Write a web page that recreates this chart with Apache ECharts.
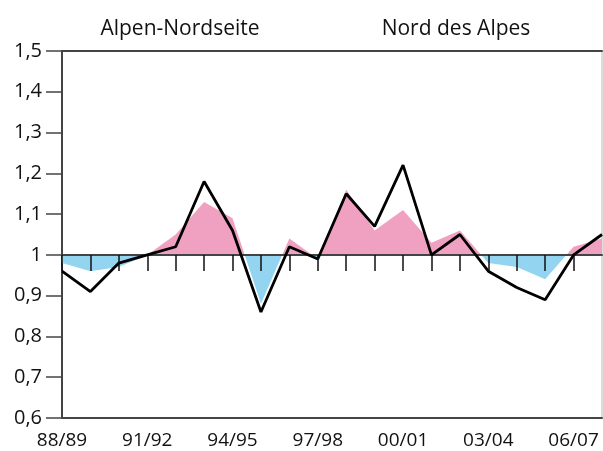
<!DOCTYPE html>
<html>
<head>
<meta charset="utf-8">
<script src="https://cdn.jsdelivr.net/npm/echarts@6/dist/echarts.min.js"></script>
<style>
  html, body { margin: 0; padding: 0; background: #fff; }
  #chart { width: 603px; height: 451px; }
</style>
</head>
<body>
<div id="chart"></div>
<script>
const seasons = ['88/89', '89/90', '90/91', '91/92', '92/93', '93/94', '94/95', '95/96', '96/97', '97/98',
  '98/99', '99/00', '00/01', '01/02', '02/03', '03/04', '04/05', '05/06', '06/07', '07/08']
// shaded series (pink above 1, blue below 1)
const areaValues = [0.98, 0.96, 0.97, 1.00, 1.05, 1.13, 1.09, 0.88, 1.04, 0.99,
  1.16, 1.06, 1.11, 1.03, 1.06, 0.98, 0.97, 0.94, 1.02, 1.04]
// black line
const lineValues = [0.96, 0.91, 0.98, 1.00, 1.02, 1.18, 1.06, 0.86, 1.02, 0.99,
  1.15, 1.07, 1.22, 1.00, 1.05, 0.96, 0.92, 0.89, 1.00, 1.05]
const titles = ['Alpen-Nordseite', 'Nord des Alpes']
const yMin = 0.6
const yMax = 1.5
const yStep = 0.1
const baseLevel = 1

const font = 'Open Sans'
const axisColor = '#444'
const pink = '#f0a0c1'
const blue = '#93d5f1'
const gridTop = 51
const gridBottom = 33
const gridHeight = 451 - gridTop - gridBottom
// share of the plot height above the 1 line
const baseFrac = (yMax - baseLevel) / (yMax - yMin)

const chart = echarts.init(document.getElementById('chart'))
const option = {
  backgroundColor: '#fff',
  animation: false,
  title: [
    { text: titles[0], left: 180, top: 19, textAlign: 'center', padding: 0,
      textStyle: { fontFamily: font, fontSize: 21, fontWeight: 'normal', color: '#111' } },
    { text: titles[1], left: 456, top: 19, textAlign: 'center', padding: 0,
      textStyle: { fontFamily: font, fontSize: 21, fontWeight: 'normal', color: '#111' } }
  ],
  grid: {
    left: 62,
    right: 1,
    top: gridTop,
    bottom: gridBottom,
    show: true,
    borderColor: '#bbb',
    borderWidth: 1
  },
  xAxis: [{
    type: 'category',
    data: seasons,
    boundaryGap: false,
    position: 'bottom',
    axisLine: { lineStyle: { color: axisColor, width: 2 } },
    axisTick: { show: false },
    axisLabel: { interval: 2, margin: 13, fontFamily: font, fontSize: 19, color: '#111' },
    splitLine: { show: false }
  }, {
    // ticks hanging from the 1 line
    type: 'category',
    data: seasons,
    boundaryGap: false,
    position: 'bottom',
    offset: -(1 - baseFrac) * gridHeight,
    z: 5,
    axisLine: { lineStyle: { color: axisColor, width: 2 } },
    axisTick: {
      show: true,
      interval: (idx) => idx < seasons.length - 1, // no tick on the right edge
      length: 16,
      lineStyle: { color: '#111', width: 1.5 }
    },
    axisLabel: { show: false },
    splitLine: { show: false }
  }, {
    type: 'category',
    data: seasons,
    boundaryGap: false,
    position: 'top',
    axisLine: { lineStyle: { color: axisColor, width: 2 } },
    axisTick: { show: false },
    axisLabel: { show: false },
    splitLine: { show: false }
  }],
  yAxis: {
    type: 'value',
    min: yMin,
    max: yMax,
    interval: yStep,
    axisLine: { show: true, lineStyle: { color: axisColor, width: 2 } },
    axisTick: { show: true, length: 16, lineStyle: { color: axisColor, width: 1.5 } },
    axisLabel: {
      margin: 20,
      fontFamily: font,
      fontSize: 20,
      color: '#111',
      formatter(v) {
        return String(Math.round(v * 10) / 10).replace('.', ',')
      }
    },
    splitLine: { show: false }
  },
  series: [{
    name: 'area',
    type: 'line',
    data: areaValues,
    showSymbol: false,
    silent: true,
    lineStyle: { width: 0 },
    areaStyle: {
      origin: baseLevel,
      opacity: 1,
      // hard split at the 1 line: pink above, blue below
      color: new echarts.graphic.LinearGradient(0, gridTop, 0, gridTop + gridHeight, [
        { offset: 0, color: pink },
        { offset: baseFrac, color: pink },
        { offset: baseFrac, color: blue },
        { offset: 1, color: blue }
      ], true)
    },
    z: 2
  }, {
    name: 'line',
    type: 'line',
    data: lineValues,
    showSymbol: false,
    silent: true,
    lineStyle: { color: '#000', width: 2.8 },
    z: 10
  }]
}
chart.setOption(option)
</script>
</body>
</html>
